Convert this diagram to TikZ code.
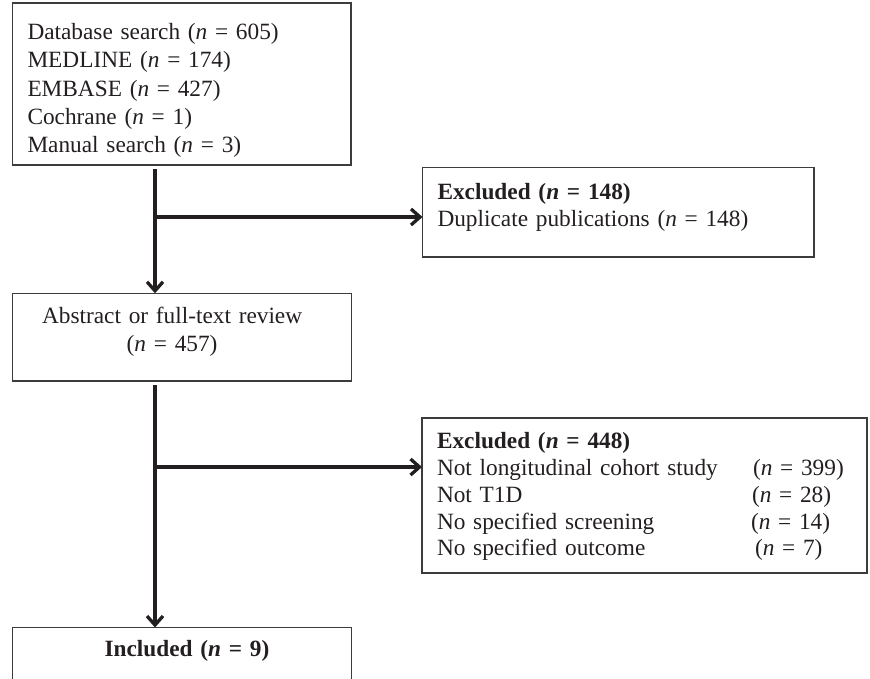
\documentclass[tikz,border=0pt]{standalone}
\usepackage{fontspec}
\setmainfont{Liberation Serif}
\usepackage{xcolor}
\usetikzlibrary{arrows.meta}
\definecolor{ink}{HTML}{231F20}
\definecolor{frame}{HTML}{3C3C3C}

\begin{document}
\begin{tikzpicture}[x=1pt,y=-1pt,
	box/.style={draw=frame, line width=1.3pt, anchor=north west, outer sep=0pt,
		inner xsep=15pt, inner ysep=0pt, text=ink},
	flow/.style={draw=ink, line width=3.3pt, -{Straight Barb[length=9pt,width=16pt]}}]
		\useasboundingbox (0,0) rectangle (870,678);
		\clip (0,0) rectangle (870,678);
		
		\node[box, text width=308.5pt, align=left, text height=36.5pt, text depth=125.5pt,
			font=\fontsize{23.3}{28.3}\selectfont] (search) at (12.5,3)
			{Database search (\textit{n} = 605)\\
			 MEDLINE (\textit{n} = 174)\\
			 EMBASE (\textit{n} = 427)\\
			 Cochrane (\textit{n} = 1)\\
			 Manual search (\textit{n} = 3)};
		
		\node[box, text width=308.8pt, align=center, text height=30pt, text depth=57.7pt,
			font=\fontsize{23.3}{28.3}\selectfont] (review) at (12.7,293.3)
			{\hspace*{-20pt}Abstract or full-text review\\
			 \hspace*{-20pt}(\textit{n} = 457)};
		
		\node[box, text width=309pt, align=center, text height=29.2pt, text depth=35pt,
			font=\fontsize{23.3}{28.3}\selectfont] (incl) at (12.5,627.5)
			{\hspace*{10pt}\textbf{Included (\textit{n} = 9)}};
		
		\node[box, text width=361.5pt, align=left, text height=31.5pt, text depth=58pt,
			font=\fontsize{23.3}{27.7}\selectfont] (excl1) at (422.5,167.5)
			{\textbf{Excluded (\textit{n} = 148)}\\
			 Duplicate publications (\textit{n} = 148)};
		
		\node[box, text width=415pt, align=left, text height=30.3pt, text depth=124.7pt,
			font=\fontsize{23.3}{26.9}\selectfont] (excl2) at (422,418)
			{\textbf{Excluded (\textit{n} = 448)}\\
			 \makebox[316pt][l]{Not longitudinal cohort study}(\textit{n} = 399)\\
			 \makebox[315pt][l]{Not T1D}(\textit{n} = 28)\\
			 \makebox[314pt][l]{No specified screening}(\textit{n} = 14)\\
			 \makebox[318pt][l]{No specified outcome}(\textit{n} = 7)};
		
		\coordinate (top1) at (155,169);
		\coordinate (fork1) at (155,217);
		\coordinate (top2) at (155,385);
		\coordinate (fork2) at (155,467);
		
		\draw[flow] (top1) -- (top1 |- review.north);
		\draw[flow] (fork1) -- (fork1 -| excl1.west);
		\draw[flow] (top2) -- (top2 |- incl.north);
		\draw[flow] (fork2) -- (fork2 -| excl2.west);
\end{tikzpicture}
\end{document}
